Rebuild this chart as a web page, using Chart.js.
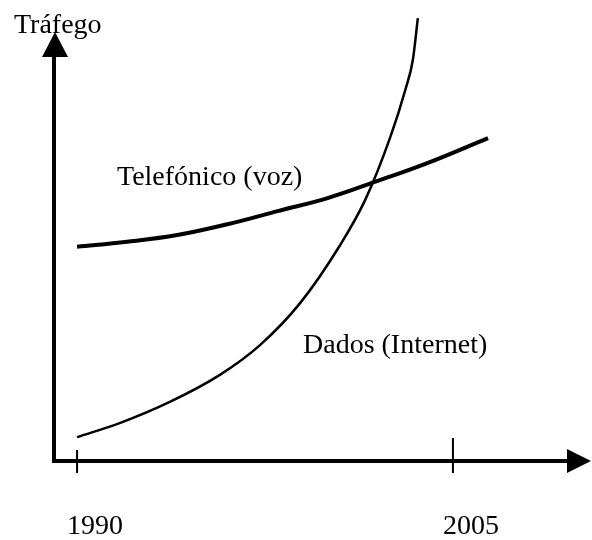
<!DOCTYPE html>
<html>
<head>
<meta charset="utf-8">
<script src="https://cdn.jsdelivr.net/npm/chart.js@4.4.1/dist/chart.umd.min.js"></script>
<style>
  html, body { margin: 0; padding: 0; background: #fff; }
  #wrap { width: 592px; height: 540px; }
</style>
</head>
<body>
<div id="wrap"><canvas id="trafego"></canvas></div>
<script>
// eixo x: anos marcados
var tickYears = [1990, 2005];

// trafego telefonico (voz) - unidades arbitrarias
var vozYears  = [1990, 1992, 1994, 1996, 1998, 2000, 2002, 2004, 2006.4];
var vozValues = [47.5, 48.6, 50.1, 52.5, 55.4, 58.3, 62.1, 66.1, 71.6];

// trafego de dados (internet)
var dadosYears  = [1990, 1991.7, 1993.7, 1995.7, 1997.3, 1998.9, 2000.5, 2001.5, 2002.5, 2003.1, 2003.4, 2003.6];
var dadosValues = [5.3, 8.4, 13.1, 19.1, 25.7, 35.0, 47.9, 57.9, 71.8, 82.3, 88.9, 98.2];

var labels = {
    eixoY: 'Tráfego',
    voz: 'Telefónico (voz)',
    dados: 'Dados (Internet)'
};

var serif = "'Liberation Serif', 'DejaVu Serif', serif";

function toPoints(xs, ys) {
    return xs.map(function (x, i) { return { x: x, y: ys[i] }; });
}

// eixos com setas, marcas e textos
var axesPlugin = {
    id: 'axesArrows',
    afterDraw: function (chart) {
        var ctx = chart.ctx;
        var a = chart.chartArea;
        var xs = chart.scales.x, ys = chart.scales.y;
        var x0 = a.left + 1, y0 = ys.getPixelForValue(0);
        ctx.save();
        ctx.fillStyle = '#000';
        ctx.strokeStyle = '#000';

        // eixo y
        ctx.lineWidth = 4;
        ctx.beginPath();
        ctx.moveTo(x0, y0 + 2);
        ctx.lineTo(x0, 56);
        ctx.stroke();
        ctx.beginPath();
        ctx.moveTo(x0 + 1, 32);
        ctx.lineTo(x0 - 12, 57);
        ctx.lineTo(x0 + 14, 57);
        ctx.closePath();
        ctx.fill();

        // eixo x
        ctx.beginPath();
        ctx.moveTo(x0 - 2, y0);
        ctx.lineTo(570, y0);
        ctx.stroke();
        ctx.beginPath();
        ctx.moveTo(591, y0);
        ctx.lineTo(567, y0 - 12);
        ctx.lineTo(567, y0 + 12);
        ctx.closePath();
        ctx.fill();

        // marcas dos anos
        ctx.lineWidth = 2;
        var tickTops = [y0 - 11, y0 - 23];
        tickYears.forEach(function (yr, i) {
            var px = xs.getPixelForValue(yr);
            ctx.beginPath();
            ctx.moveTo(px, tickTops[i]);
            ctx.lineTo(px, y0 + 12);
            ctx.stroke();
        });

        // textos
        ctx.font = '28px ' + serif;
        ctx.textBaseline = 'alphabetic';
        ctx.textAlign = 'left';
        ctx.fillText(labels.eixoY, 14, 33);
        ctx.fillText(labels.voz, 117, 185);
        ctx.fillText(labels.dados, 303, 353);
        ctx.restore();
    }
};

var chart = new Chart(document.getElementById('trafego').getContext('2d'), {
    type: 'line',
    data: {
        datasets: [{
            label: labels.voz,
            data: toPoints(vozYears, vozValues),
            borderColor: '#000',
            borderWidth: 4,
            pointRadius: 0,
            tension: 0.4,
            fill: false
        }, {
            label: labels.dados,
            data: toPoints(dadosYears, dadosValues),
            borderColor: '#000',
            borderWidth: 2.5,
            pointRadius: 0,
            cubicInterpolationMode: 'monotone',
            fill: false
        }]
    },
    options: {
        responsive: true,
        maintainAspectRatio: false,
        animation: false,
        layout: { padding: { left: 53, right: 2, top: 10, bottom: 0 } },
        plugins: {
            legend: { display: false },
            tooltip: { enabled: false }
        },
        scales: {
            x: {
                type: 'linear',
                min: 1989.04,
                max: 2010.47,
                grid: { display: false, drawTicks: false },
                border: { display: false },
                afterBuildTicks: function (scale) {
                    scale.ticks = tickYears.map(function (v) { return { value: v }; });
                },
                afterFit: function (scale) {
                    scale.height = 79;
                    scale.paddingLeft = 0;
                    scale.paddingRight = 0;
                },
                ticks: {
                    color: '#000',
                    padding: 49,
                    labelOffset: 18,
                    maxRotation: 0,
                    autoSkip: false,
                    font: { family: serif, size: 28 },
                    callback: function (v) { return String(v); }
                }
            },
            y: {
                display: false,
                min: 0,
                max: 100
            }
        }
    },
    plugins: [axesPlugin]
});
</script>
</body>
</html>
